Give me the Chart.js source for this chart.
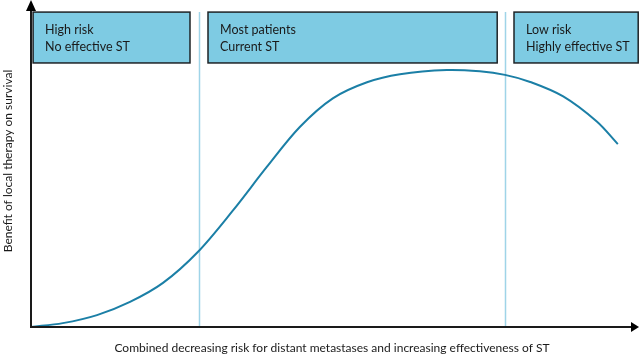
<!DOCTYPE html>
<html>
<head>
<meta charset="utf-8">
<script src="https://cdn.jsdelivr.net/npm/chart.js@4/dist/chart.umd.min.js"></script>
<style>
html,body{margin:0;padding:0;background:#fff;}
#wrap{width:640px;height:355px;position:relative;}
</style>
</head>
<body>
<div id="wrap"><canvas id="c" width="640" height="355"></canvas></div>
<script>
// Curve: benefit of local therapy (arbitrary units 0-100) vs combined x (0-100)
const curveX = [0, 5.3, 11, 16.5, 22, 27.8, 33.7, 39.3, 44.8, 50.3, 56, 61.5, 69.3, 74.8, 79, 83.2, 88.7, 94.3, 97.8];
const curveY = [0, 1.2, 3.7, 7.8, 13.7, 23.3, 36.3, 49.7, 62.1, 71.0, 76.0, 78.5, 79.8, 79.4, 78.3, 76.1, 71.6, 63.8, 56.8];
// Divider positions
const dividers = [28, 79];
// Region boxes
const boxLine1 = ["High risk", "Most patients", "Low risk"];
const boxLine2 = ["No effective ST", "Current ST", "Highly effective ST"];
const boxStart = [0.35, 29.5, 80.5];
const boxEnd = [26.5, 77.7, 101.2];
const boxBottom = 82;
const boxTop = 97.8;
const xTitle = "Combined decreasing risk for distant metastases and increasing effectiveness of ST";
const yTitle = "Benefit of local therapy on survival";

const FONT = "Lato, 'Open Sans', sans-serif";

const decor = {
  id: 'decor',
  beforeDatasetsDraw(chart) {
    const {ctx, chartArea: a, scales: {x, y}} = chart;
    ctx.save();
    // dividers
    ctx.strokeStyle = '#9fd4e8';
    ctx.lineWidth = 1.5;
    dividers.forEach(d => {
      const px = Math.round(x.getPixelForValue(d)) + 0.5;
      ctx.beginPath();
      ctx.moveTo(px, y.getPixelForValue(boxTop));
      ctx.lineTo(px, a.bottom);
      ctx.stroke();
    });
    // boxes
    for (let i = 0; i < boxLine1.length; i++) {
      const x0 = x.getPixelForValue(boxStart[i]);
      const x1 = x.getPixelForValue(boxEnd[i]);
      const y0 = y.getPixelForValue(boxTop);
      const y1 = y.getPixelForValue(boxBottom);
      ctx.fillStyle = '#7ecbe3';
      ctx.fillRect(x0, y0, x1 - x0, y1 - y0);
      ctx.strokeStyle = '#1e2326';
      ctx.lineWidth = 1.5;
      ctx.strokeRect(x0, y0, x1 - x0, y1 - y0);
      ctx.fillStyle = '#1a1a1a';
      ctx.font = '12.5px ' + FONT;
      ctx.textBaseline = 'alphabetic';
      ctx.textAlign = 'left';
      ctx.fillText(boxLine1[i], x0 + 12, y0 + 22);
      ctx.fillText(boxLine2[i], x0 + 12, y0 + 39);
    }
    ctx.restore();
  },
  afterDatasetsDraw(chart) {
    const {ctx, chartArea: a} = chart;
    ctx.save();
    ctx.strokeStyle = '#1a1a1a';
    ctx.fillStyle = '#000';
    ctx.lineWidth = 2;
    // y axis
    ctx.beginPath();
    ctx.moveTo(a.left, a.bottom + 1);
    ctx.lineTo(a.left, a.top + 4);
    ctx.stroke();
    ctx.beginPath();
    ctx.moveTo(a.left - 5, a.top + 6);
    ctx.lineTo(a.left + 5, a.top + 6);
    ctx.lineTo(a.left, a.top - 5);
    ctx.closePath();
    ctx.fill();
    // x axis
    ctx.beginPath();
    ctx.moveTo(a.left - 1, a.bottom);
    ctx.lineTo(a.right, a.bottom);
    ctx.stroke();
    ctx.beginPath();
    ctx.moveTo(a.right, a.bottom - 5);
    ctx.lineTo(a.right, a.bottom + 5);
    ctx.lineTo(a.right + 8, a.bottom);
    ctx.closePath();
    ctx.fill();
    // titles
    ctx.fillStyle = '#1a1a1a';
    ctx.font = '12px ' + FONT;
    ctx.textAlign = 'center';
    ctx.textBaseline = 'alphabetic';
    ctx.fillText(xTitle, 332, 352);
    ctx.translate(12, 161);
    ctx.rotate(-Math.PI / 2);
    ctx.fillText(yTitle, 0, 0);
    ctx.restore();
  }
};

new Chart(document.getElementById('c'), {
  type: 'line',
  data: {
    datasets: [{
      data: curveX.map((v, i) => ({x: v, y: curveY[i]})),
      borderColor: '#1b7fa6',
      borderWidth: 2,
      pointRadius: 0,
      tension: 0.33,
      fill: false
    }]
  },
  options: {
    responsive: false,
    animation: false,
    layout: {padding: {left: 31, right: 9, top: 5, bottom: 28}},
    plugins: {legend: {display: false}, tooltip: {enabled: false}},
    scales: {
      x: {type: 'linear', min: 0, max: 100, display: false},
      y: {type: 'linear', min: 0, max: 100, display: false}
    }
  },
  plugins: [decor]
});
</script>
</body>
</html>
